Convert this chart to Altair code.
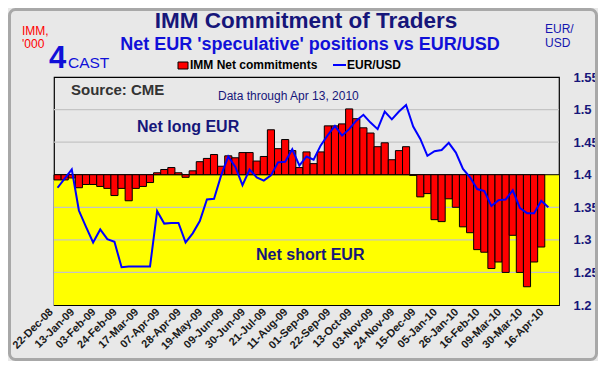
import altair as alt
import pandas as pd

# ---------------- data ----------------
date_labels = ["22-Dec-08", "13-Jan-09", "03-Feb-09", "24-Feb-09", "17-Mar-09", "07-Apr-09",
               "28-Apr-09", "19-May-09", "09-Jun-09", "30-Jun-09", "21-Jul-09", "11-Aug-09",
               "01-Sep-09", "22-Sep-09", "13-Oct-09", "03-Nov-09", "24-Nov-09", "15-Dec-09",
               "05-Jan-10", "26-Jan-10", "16-Feb-10", "09-Mar-10", "30-Mar-10", "16-Apr-10"]

net_positions = [-4, -4, -2.5, -10, -7.5, -7.5, -9, -10.5, -16, -10.5,
                 -20, -10.5, -9, -6, 1.5, 4, 5.5, 1.5, -2, 3,
                 10, 12.5, 15.5, 6.5, 14.5, 13, 17, 17, 10.5, 14,
                 34.5, 20, 27, 18.5, 5.5, 17.5, 8.5, 17.5, 37.5, 37.5,
                 39, 50.5, 43, 36, 32, 21.5, 24.5, 11.5, 18.5, 21.5,
                 -0.5, -17, -14.5, -34.5, -36, -18.5, -25, -40, -44.5, -57.5,
                 -59.5, -72, -67, -75, -46.5, -75, -86, -67, -55.5]

eurusd = [1.380, 1.394, 1.408, 1.345, 1.320, 1.296, 1.316, 1.301, 1.297, 1.258,
          1.259, 1.259, 1.259, 1.259, 1.344, 1.325, 1.326, 1.326, 1.296, 1.310,
          1.329, 1.362, 1.363, 1.399, 1.428, 1.412, 1.384, 1.408, 1.396, 1.391,
          1.399, 1.419, 1.420, 1.439, 1.414, 1.428, 1.423, 1.445, 1.461, 1.475,
          1.460, 1.470, 1.483, 1.492, 1.480, 1.470, 1.497, 1.485, 1.497, 1.507,
          1.474, 1.455, 1.429, 1.436, 1.438, 1.449, 1.434, 1.409, 1.396, 1.378,
          1.375, 1.352, 1.361, 1.362, 1.376, 1.349, 1.341, 1.341, 1.360, 1.350]

n_slots = 71
left_ticks = [-100, -75, -50, -25, 0, 25, 50, 75]
grid_ticks = [-75, -50, -25, 25, 50]
right_ticks = [1.2, 1.25, 1.3, 1.35, 1.4, 1.45, 1.5, 1.55]

W, H = 505, 228
FONT = "Liberation Sans"
NAVY = "#16167A"
BLUE = "#1010D8"

bars_df = pd.DataFrame({"i": list(range(len(net_positions))), "v": net_positions})
line_df = pd.DataFrame({"i": list(range(len(eurusd))), "r": eurusd})
one = pd.DataFrame({"a": [0]})

x_scale = alt.Scale(domain=list(range(n_slots)), paddingInner=0, paddingOuter=0)
label_expr = "[" + ",".join("'" + d + "'" for d in date_labels) + "][datum.value / 3]"
x_axis = alt.Axis(values=list(range(0, 70, 3)), labelExpr=label_expr, labelAngle=315,
                  labelAlign="right", labelBaseline="middle", labelOffset=-6, labelPadding=5,
                  tickSize=0, domain=False, grid=False, title=None, labelOverlap=False,
                  labelFont=FONT, labelFontSize=11, labelFontWeight="bold", labelColor="#1A1A1A")
x_enc = alt.X("i:O", scale=x_scale, axis=x_axis)

y_scale = alt.Scale(domain=[-100, 75], nice=False, zero=False)
y_axis = alt.Axis(values=left_ticks, tickSize=0, domain=False, grid=False, title=None,
                  labelPadding=11, labelFont=FONT, labelFontSize=13, labelFontWeight="bold",
                  labelColor="#FF0000")

yellow = alt.Chart(one).mark_rect(color="#FFFF00").encode(
    x=alt.value(0), x2=alt.value(W),
    y=alt.YDatum(0, scale=y_scale, axis=None), y2=alt.Y2Datum(-100))

grid = alt.Chart(pd.DataFrame({"g": grid_ticks})).mark_rule(color="#C4C4C4", strokeWidth=1.2).encode(
    y=alt.Y("g:Q", scale=y_scale, axis=None))

zero = alt.Chart(one).mark_rule(color="black", strokeWidth=1).encode(
    y=alt.YDatum(0, scale=y_scale, axis=None))

bars = alt.Chart(bars_df).mark_bar(color="#FF0000", stroke="black", strokeWidth=1).encode(
    x=x_enc, y=alt.Y("v:Q", scale=y_scale, axis=y_axis))

left = alt.layer(yellow, grid, zero, bars)

line = alt.Chart(line_df).mark_line(color="#0000FF", strokeWidth=2).encode(
    x=x_enc,
    y=alt.Y("r:Q", scale=alt.Scale(domain=[1.2, 1.55], nice=False, zero=False),
            axis=alt.Axis(orient="right", values=right_ticks, format=".3~g", tickSize=0,
                          domain=False, grid=False, title=None, labelPadding=14,
                          labelFont=FONT, labelFontSize=13, labelFontWeight="bold",
                          labelColor=NAVY)))


def txt(s, x, y, size, color, weight="normal", align="left"):
    return alt.Chart(pd.DataFrame({"t": [s]})).mark_text(
        font=FONT, fontSize=size, fontWeight=weight, color=color, align=align,
        baseline="alphabetic").encode(text="t:N", x=alt.value(x), y=alt.value(y))


texts = [
    txt("IMM Commitment of Traders", 252, -49, 22.5, NAVY, "bold", "center"),
    txt("Net EUR 'speculative' positions vs EUR/USD", 256, -27, 18, BLUE, "bold", "center"),
    txt("IMM,", -32, -42, 12, "#FF0000"),
    txt("'000", -32, -29, 12, "#FF0000"),
    txt("EUR/", 491, -44, 12, "#1515B0"),
    txt("USD", 491, -30, 12, "#1515B0"),
    txt("4", -5, -9, 31, BLUE, "bold"),
    txt("CAST", 14, -9, 15.5, BLUE),
    txt("IMM Net commitments", 136, -8, 12, "black", "bold"),
    txt("EUR/USD", 293, -8, 12, "black", "bold"),
    txt("Source: CME", 17, 18, 15, "#333333", "bold"),
    txt("Data through Apr 13, 2010", 164, 23, 12, NAVY),
    txt("Net long EUR", 83, 55, 16, NAVY, "bold"),
    txt("Net short EUR", 202, 183, 16, NAVY, "bold"),
]

legend_box = alt.Chart(one).mark_rect(color="#FF0000", stroke="black", strokeWidth=1).encode(
    x=alt.value(124), x2=alt.value(134), y=alt.value(-15), y2=alt.value(-8))
legend_line = alt.Chart(one).mark_rule(color="#0000FF", strokeWidth=2).encode(
    x=alt.value(279), x2=alt.value(292), y=alt.value(-12))
frame = alt.Chart(one).mark_rect(fill=None, stroke="#A8A8A8", strokeWidth=3, cornerRadius=6).encode(
    x=alt.value(-44.5), x2=alt.value(542.5), y=alt.value(-67.5), y2=alt.value(282.5))

chart = alt.layer(left, line, legend_box, legend_line, frame, *texts).resolve_scale(
    y="independent"
).properties(
    width=W, height=H, background="#E8E8E8",
    padding={"left": 46, "top": 69, "right": 39, "bottom": 56},
    autosize=alt.AutoSizeParams(type="none"),
).configure_view(stroke="black", strokeWidth=1.2)

chart.save("out.html", embed_options={"renderer": "svg", "actions": False})
